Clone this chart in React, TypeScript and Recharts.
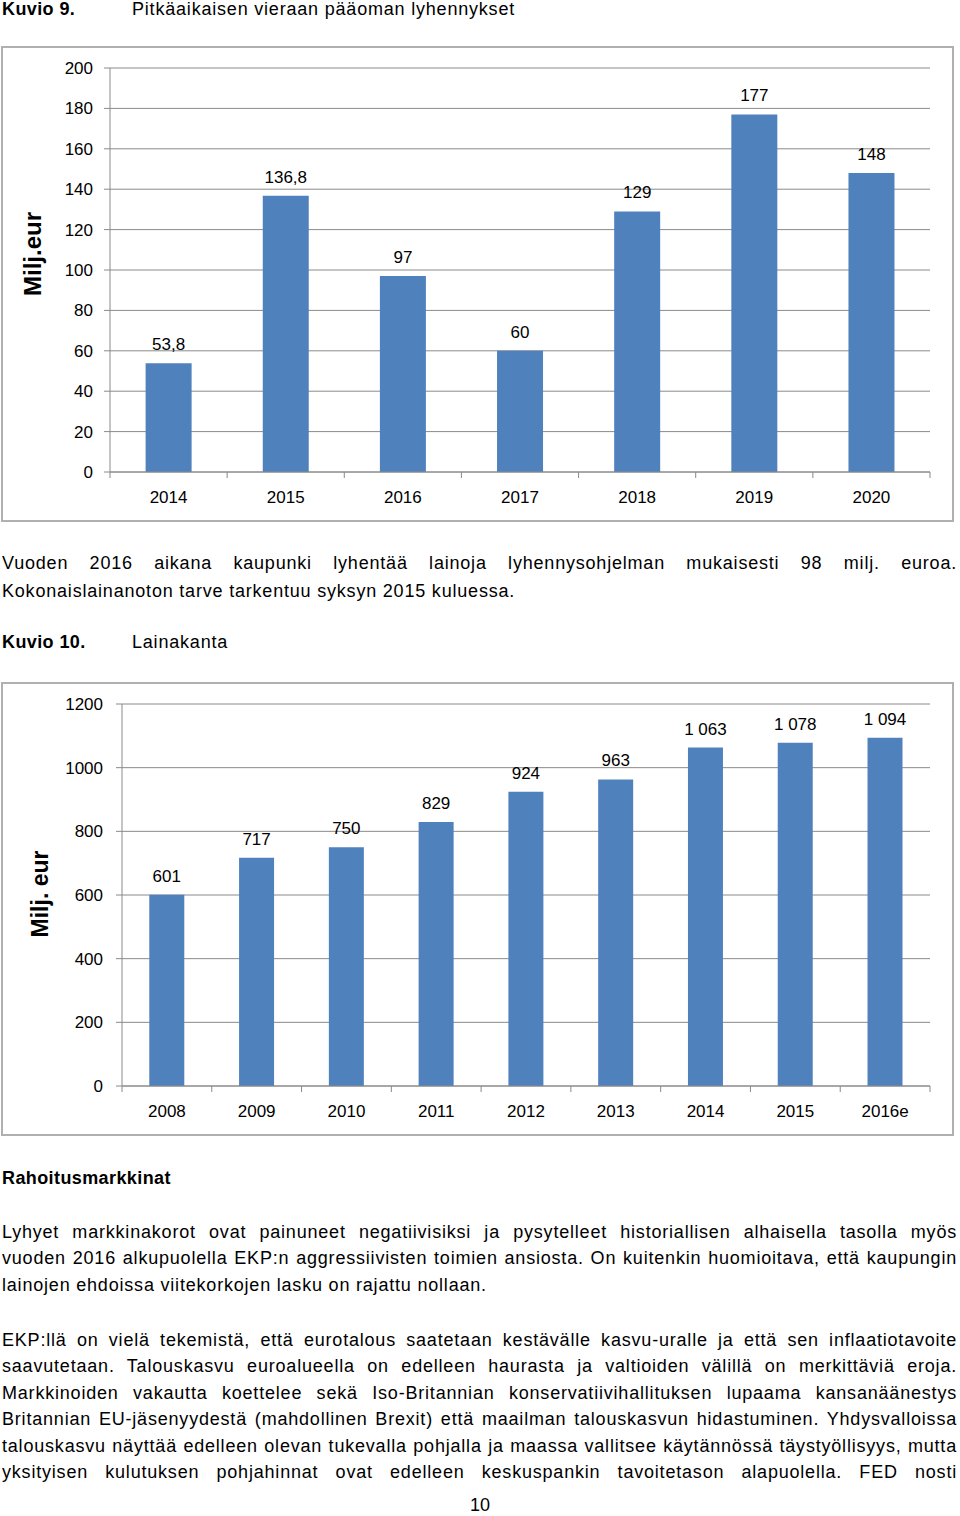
import React from "react";
import { BarChart, Bar, XAxis, YAxis, CartesianGrid, LabelList } from "recharts";

// Kuvio 9 - pitkäaikaisen vieraan pääoman lyhennykset
const years9 = ["2014", "2015", "2016", "2017", "2018", "2019", "2020"];
const values9 = [53.8, 136.8, 97, 60, 129, 177, 148];
const labels9 = ["53,8", "136,8", "97", "60", "129", "177", "148"];
const ticks9 = [0, 20, 40, 60, 80, 100, 120, 140, 160, 180, 200];

// Kuvio 10 - lainakanta
const years10 = ["2008", "2009", "2010", "2011", "2012", "2013", "2014", "2015", "2016e"];
const values10 = [601, 717, 750, 829, 924, 963, 1063, 1078, 1094];
const labels10 = ["601", "717", "750", "829", "924", "963", "1 063", "1 078", "1 094"];
const ticks10 = [0, 200, 400, 600, 800, 1000, 1200];

const para1 = [
  "Vuoden 2016 aikana kaupunki lyhentää lainoja lyhennysohjelman mukaisesti 98 milj. euroa.",
  "Kokonaislainanoton tarve tarkentuu syksyn 2015 kuluessa.",
];
const para2 = [
  "Lyhyet markkinakorot ovat painuneet negatiivisiksi ja pysytelleet historiallisen alhaisella tasolla myös",
  "vuoden 2016 alkupuolella EKP:n aggressiivisten toimien ansiosta. On kuitenkin huomioitava, että kaupungin",
  "lainojen ehdoissa viitekorkojen lasku on rajattu nollaan.",
];
const para3 = [
  "EKP:llä on vielä tekemistä, että eurotalous saatetaan kestävälle kasvu-uralle ja että sen inflaatiotavoite",
  "saavutetaan. Talouskasvu euroalueella on edelleen haurasta ja valtioiden välillä on merkittäviä eroja.",
  "Markkinoiden vakautta koettelee sekä Iso-Britannian konservatiivihallituksen lupaama kansanäänestys",
  "Britannian EU-jäsenyydestä (mahdollinen Brexit) että maailman talouskasvun hidastuminen. Yhdysvalloissa",
  "talouskasvu näyttää edelleen olevan tukevalla pohjalla ja maassa vallitsee käytännössä täystyöllisyys, mutta",
  "yksityisen kulutuksen pohjahinnat ovat edelleen keskuspankin tavoitetason alapuolella. FED nosti",
];

const FONT = "'Liberation Sans', Arial, sans-serif";
const GRID = "#8a8a8a";
const BLUE = "#4f81bd";

const data9 = years9.map((y, i) => ({ year: y, value: values9[i], label: labels9[i] }));
const data10 = years10.map((y, i) => ({ year: y, value: values10[i], label: labels10[i] }));

function Line({ center, text, justify, bold, left = 2 }: any) {
  return (
    <div
      style={{
        position: "absolute",
        left,
        top: center - 13.5,
        width: 955 - (left - 2),
        height: 27,
        lineHeight: "27px",
        fontSize: 18,
        fontWeight: bold ? "bold" : "normal",
        letterSpacing: bold ? "0.4px" : "0.8px",
        textAlign: "justify",
        textAlignLast: justify ? "justify" : "left",
        whiteSpace: "nowrap",
      }}
    >
      {text}
    </div>
  );
}

function XTick(props: any) {
  const { x, y, payload, index, visibleTicksCount, half } = props;
  const off = payload && payload.offset ? payload.offset : half;
  const last = index === visibleTicksCount - 1;
  return (
    <g>
      <line x1={x - off} y1={y} x2={x - off} y2={y + 6} stroke={GRID} />
      {last && <line x1={x + off} y1={y} x2={x + off} y2={y + 6} stroke={GRID} />}
      <text x={x} y={y + 31} textAnchor="middle" fontSize={17} fontFamily={FONT} fill="#000">
        {payload.value}
      </text>
    </g>
  );
}

function ValueLabel(props: any) {
  const { x, y, width, value } = props;
  return (
    <text x={x + width / 2} y={y - 13} textAnchor="middle" fontSize={17} fontFamily={FONT} fill="#000">
      {value}
    </text>
  );
}

function ColumnChart({ data, ticks, max, width, height, yWidth, tickMargin, title, titleX, titleY, titleSize }: any) {
  const plotW = width - yWidth - 30;
  const half = plotW / data.length / 2;
  return (
    <BarChart
      width={width}
      height={height}
      data={data}
      margin={{ top: 21, right: 30, left: 0, bottom: 0 }}
      barCategoryGap="30.4%"
    >
      <CartesianGrid vertical={false} stroke={GRID} />
      <XAxis
        dataKey="year"
        height={48}
        stroke={GRID}
        tickLine={false}
        tickSize={0}
        tickMargin={0}
        interval={0}
        tick={(p: any) => <XTick {...p} half={half} />}
      />
      <YAxis
        width={yWidth}
        domain={[0, max]}
        ticks={ticks}
        interval={0}
        stroke={GRID}
        tickSize={6}
        tickMargin={tickMargin}
        tick={{ fontSize: 17, fontFamily: FONT, fill: "#000" }}
        label={{
          content: () => (
            <text
              x={titleX}
              y={titleY}
              transform={`rotate(-90 ${titleX} ${titleY})`}
              textAnchor="middle"
              dominantBaseline="central"
              fontSize={titleSize}
              fontWeight="bold"
              fontFamily={FONT}
              fill="#000"
            >
              {title}
            </text>
          ),
        }}
      />
      <Bar dataKey="value" fill={BLUE} isAnimationActive={false}>
        <LabelList dataKey="label" content={ValueLabel} />
      </Bar>
    </BarChart>
  );
}

export default function App() {
  return (
    <div
      style={{
        position: "absolute",
        left: 0,
        top: 0,
        width: 960,
        height: 1516,
        background: "#fff",
        fontFamily: FONT,
        color: "#000",
        overflow: "hidden",
      }}
    >
      <Line center={9} text="Kuvio 9." bold />
      <Line center={9} left={132} text="Pitkäaikaisen vieraan pääoman lyhennykset" />

      <div
        style={{
          position: "absolute",
          left: 1,
          top: 46,
          width: 953,
          height: 476,
          border: "2px solid #b0b0b0",
          boxSizing: "border-box",
        }}
      />
      <div style={{ position: "absolute", left: 0, top: 47 }}>
        <ColumnChart
          data={data9}
          ticks={ticks9}
          max={200}
          width={960}
          height={473}
          yWidth={110}
          tickMargin={11}
          title="Milj.eur"
          titleX={32}
          titleY={207}
          titleSize={24}
        />
      </div>

      <Line center={563} text={para1[0]} justify />
      <Line center={591} text={para1[1]} />

      <Line center={642} text="Kuvio 10." bold />
      <Line center={642} left={132} text="Lainakanta" />

      <div
        style={{
          position: "absolute",
          left: 1,
          top: 682,
          width: 953,
          height: 454,
          border: "2px solid #b0b0b0",
          boxSizing: "border-box",
        }}
      />
      <div style={{ position: "absolute", left: 0, top: 683 }}>
        <ColumnChart
          data={data10}
          ticks={ticks10}
          max={1200}
          width={960}
          height={451}
          yWidth={122}
          tickMargin={13}
          title="Milj. eur"
          titleX={40}
          titleY={211}
          titleSize={23}
        />
      </div>

      <Line center={1178} text="Rahoitusmarkkinat" bold />

      {para2.map((t, i) => (
        <Line key={"a" + i} center={1232 + i * 26.5} text={t} justify={i < para2.length - 1} />
      ))}
      {para3.map((t, i) => (
        <Line key={"b" + i} center={1340 + i * 26.5} text={t} justify />
      ))}

      <div
        style={{
          position: "absolute",
          left: 0,
          width: 960,
          top: 1505 - 13.5,
          height: 27,
          lineHeight: "27px",
          fontSize: 18,
          textAlign: "center",
        }}
      >
        10
      </div>
    </div>
  );
}
